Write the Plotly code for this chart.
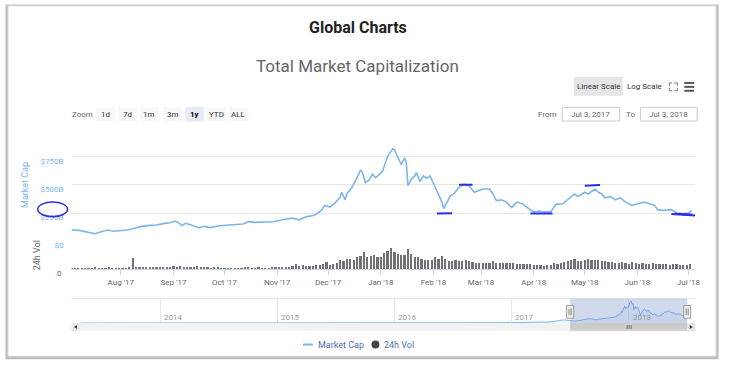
import plotly.graph_objects as go
import pandas as pd

W, H = 730, 375
def px(x): return x / W
def py(y): return 1 - y / H

FONT = "Liberation Sans Narrow, Arial Narrow, Roboto, sans-serif"

# ---------------- data ----------------
mc_dates = ["2017-07-03","2017-07-06","2017-07-11","2017-07-14","2017-07-17","2017-07-20","2017-07-24","2017-07-28",
            "2017-08-01","2017-08-05","2017-08-09","2017-08-13","2017-08-18","2017-08-22","2017-08-26","2017-08-30",
            "2017-09-02","2017-09-04","2017-09-06","2017-09-08","2017-09-12","2017-09-16","2017-09-19","2017-09-23","2017-09-28",
            "2017-10-04","2017-10-06","2017-10-12","2017-10-15","2017-10-19","2017-10-25","2017-10-30",
            "2017-11-04","2017-11-10","2017-11-14","2017-11-18","2017-11-23","2017-11-27","2017-11-29",
            "2017-12-02","2017-12-05","2017-12-08","2017-12-09","2017-12-11","2017-12-12","2017-12-15","2017-12-18","2017-12-20",
            "2017-12-21","2017-12-23","2017-12-25","2017-12-27","2017-12-29","2017-12-31",
            "2018-01-02","2018-01-05","2018-01-08","2018-01-09","2018-01-11","2018-01-13","2018-01-15","2018-01-16","2018-01-17",
            "2018-01-19","2018-01-21","2018-01-22","2018-01-24","2018-01-26","2018-01-28","2018-01-30",
            "2018-02-01","2018-02-03","2018-02-05","2018-02-06","2018-02-07","2018-02-09","2018-02-11","2018-02-13","2018-02-16",
            "2018-02-19","2018-02-22","2018-02-25","2018-02-28",
            "2018-03-02","2018-03-06","2018-03-08","2018-03-10","2018-03-13","2018-03-16","2018-03-19","2018-03-22","2018-03-26","2018-03-29",
            "2018-04-01","2018-04-04","2018-04-07","2018-04-11","2018-04-14","2018-04-18","2018-04-22","2018-04-25","2018-04-27",
            "2018-05-01","2018-05-03","2018-05-07","2018-05-09","2018-05-11","2018-05-13","2018-05-16","2018-05-19","2018-05-22","2018-05-25","2018-05-29",
            "2018-06-01","2018-06-05","2018-06-08","2018-06-11","2018-06-13","2018-06-16","2018-06-21","2018-06-24","2018-06-28",
            "2018-07-01","2018-07-03"]
mc_values = [101,100,86,80,68,82,100,90,
             93,101,116,133,142,145,157,165,
             180,165,140,160,142,119,133,122,139,
             146,148,154,175,168,171,174,
             191,206,191,217,232,275,319,
             304,339,391,435,368,420,478,565,629,
             618,522,542,594,565,594,
             620,754,820,812,739,681,739,696,493,
             551,580,609,531,580,560,580,
             513,450,391,348,290,348,406,420,478,
             507,493,435,450,
             464,464,420,362,368,348,299,348,328,290,
             261,268,261,261,328,333,386,420,397,
             435,420,464,435,420,386,397,368,386,348,319,
             333,348,333,319,281,275,281,252,246,
             252,275]
assert len(mc_dates) == len(mc_values)

# 24h volume (billions USD), one bar every second day from Jul 3, 2017
vol_start = "2017-07-03"
vol_values = [3,4,3,3,4,3,4,5,4,3,4,5,4,3,4,            # Jul
              4,4,5,32,6,6,7,6,7,6,7,6,7,6,7,           # Aug
              9,7,8,6,6,5,7,9,5,6,5,4,5,5,4,            # Sep
              3,3,3,3,4,4,6,5,4,4,5,4,4,4,5,5,          # Oct
              6,6,6,7,10,14,9,11,9,10,10,11,12,14,20,   # Nov
              13,14,18,26,22,28,30,27,36,38,50,34,38,40,34,  # Dec
              36,46,52,62,50,44,42,40,58,44,34,34,30,26,27,26,  # Jan
              34,28,38,30,24,22,25,23,24,25,24,20,18,19,         # Feb
              18,17,19,22,19,18,17,18,17,19,16,14,14,15,14,      # Mar
              12,12,11,10,11,12,18,16,18,20,22,25,30,24,23,      # Apr
              26,28,25,27,26,24,22,21,20,18,19,21,18,16,20,17,   # May
              16,17,16,15,18,16,15,14,15,13,14,15,12,13,12,      # Jun
              14]                                                 # Jul
vol_dates = pd.date_range(vol_start, periods=len(vol_values), freq="2D")

# older history shown only in the navigator
nav_hist_dates = ["2013-04-28","2013-06-01","2013-08-01","2013-10-01","2013-11-15","2013-12-01","2013-12-20",
                  "2014-01-15","2014-03-01","2014-05-01","2014-07-01","2014-09-01","2014-11-01",
                  "2015-01-15","2015-03-01","2015-05-01","2015-07-01","2015-09-01","2015-11-05",
                  "2016-01-01","2016-03-01","2016-05-01","2016-06-18","2016-09-01","2016-11-01",
                  "2017-01-01","2017-02-01","2017-03-01","2017-04-01","2017-05-01","2017-05-25","2017-06-12","2017-06-27"]
nav_hist_values = [1.5,1.2,1.3,2.0,5,14,8,
                   10,8,6,8,6,5.5,
                   3.5,4,3.8,4.5,3.8,6,
                   7,8,9,12,12,12,
                   17.7,18,22,26,40,85,115,100]

month_ticks = ["2017-08-01","2017-09-01","2017-10-01","2017-11-01","2017-12-01","2018-01-01",
               "2018-02-01","2018-03-01","2018-04-01","2018-05-01","2018-06-01","2018-07-01"]
month_labels = ["Aug '17","Sep '17","Oct '17","Nov '17","Dec '17","Jan '18",
                "Feb '18","Mar '18","Apr '18","May '18","Jun '18","Jul '18"]
cap_ticks = [0, 250, 500, 750, 1000]
cap_labels = ["$0", "$250B", "$500B", "$750B", ""]
year_ticks = ["2014-01-01","2015-01-01","2016-01-01","2017-01-01","2018-01-01"]
year_labels = ["2014","2015","2016","2017","2018"]
range_start, range_end = "2017-07-03", "2018-07-03"

# ---------------- figure ----------------
fig = go.Figure()
fig.add_trace(go.Scatter(x=mc_dates, y=mc_values, mode="lines", name="Market Cap",
                         line=dict(color="#7cb5ec", width=1.6), xaxis="x", yaxis="y",
                         hoverinfo="skip", showlegend=False))
fig.add_trace(go.Bar(x=vol_dates, y=vol_values, name="24h Vol", marker=dict(color="#707075", line=dict(width=0)),
                     width=1.3 * 86400000, xaxis="x", yaxis="y2", hoverinfo="skip", showlegend=False))
fig.add_trace(go.Scatter(x=nav_hist_dates + mc_dates, y=nav_hist_values + mc_values, mode="lines",
                         line=dict(color="#7cb5ec", width=1), fill="tozeroy",
                         fillcolor="rgba(124,181,236,0.12)", xaxis="x2", yaxis="y3",
                         hoverinfo="skip", showlegend=False))

fig.update_layout(
    width=W, height=H, autosize=False,
    margin=dict(l=0, r=0, t=0, b=0),
    paper_bgcolor="white", plot_bgcolor="rgba(0,0,0,0)",
    font=dict(family=FONT, size=8, color="#666666"),
    bargap=0, hovermode=False,
    xaxis=dict(domain=[px(72), px(700)], range=["2017-07-03", "2018-07-05"], anchor="y2",
               tickvals=month_ticks, ticktext=month_labels, showgrid=False, zeroline=False,
               showline=True, linecolor="#ccd6eb", ticks="outside", ticklen=5, tickcolor="#ccd6eb",
               tickfont=dict(size=8, color="#666666")),
    yaxis=dict(domain=[py(247.3), py(131.7)], range=[0, 1000], anchor="x",
               tickvals=cap_ticks, ticktext=cap_labels, showgrid=True, gridcolor="#e6e6e6",
               zeroline=False, ticks="", tickfont=dict(size=8, color="#7cb5ec"),
               ticklabelshift=4, ticklabelstandoff=7,
               title=dict(text="Market Cap", font=dict(size=9, color="#7cb5ec"), standoff=10)),
    yaxis2=dict(domain=[py(275.7), py(247.3)], range=[0, 80], anchor="x",
                tickvals=[0], ticktext=["0"], showgrid=False, zeroline=False, ticks="",
                tickfont=dict(size=8, color="#666666"), ticklabelshift=4, ticklabelstandoff=9,
                title=dict(text="24h Vol", font=dict(size=9, color="#666666"), standoff=14)),
    xaxis2=dict(domain=[px(72), px(700)], range=["2013-03-31", "2018-07-28"], anchor="y3",
                tickvals=year_ticks, showticklabels=False, showgrid=True, gridcolor="#e6e6e6",
                zeroline=False, showline=False, ticks=""),
    yaxis3=dict(domain=[py(331), py(306)], range=[0, 900], anchor="x2", visible=False),
)

shapes = []
# card with shadow
shapes.append(dict(type="rect", xref="paper", yref="paper", x0=px(5.5), x1=px(723.5), y0=py(368), y1=py(4.5),
                   fillcolor="#bdbdbd", line=dict(width=0), layer="below"))
shapes.append(dict(type="rect", xref="paper", yref="paper", x0=px(8), x1=px(721), y0=py(365), y1=py(6),
                   fillcolor="white", line=dict(color="#d6d6d6", width=1), layer="below"))
# Linear scale button
shapes.append(dict(type="rect", xref="paper", yref="paper", x0=px(578), x1=px(627), y0=py(98), y1=py(79),
                   fillcolor="#e6e6e6", line=dict(width=0), layer="below"))
# zoom buttons
zoom_btns = [("1d", 106), ("7d", 128.5), ("1m", 150.5), ("3m", 174), ("1y", 196), ("YTD", 218), ("ALL", 240.5)]
for lbl, cx in zoom_btns:
    shapes.append(dict(type="rect", xref="paper", yref="paper", x0=px(cx - 9.5), x1=px(cx + 9.5),
                       y0=py(124.5), y1=py(109.5),
                       fillcolor="#e6ebf5" if lbl == "1y" else "#f7f7f7", line=dict(width=0), layer="below"))
# date input boxes
for x0, x1 in [(566, 624), (645, 702)]:
    shapes.append(dict(type="rect", xref="paper", yref="paper", x0=px(x0), x1=px(x1), y0=py(124), y1=py(110),
                       fillcolor="white", line=dict(color="#cccccc", width=1), layer="below"))
# fullscreen icon
for (ax, ay, dx, dy) in [(674, 85, 1, 1), (682, 85, -1, 1), (674, 93, 1, -1), (682, 93, -1, -1)]:
    shapes.append(dict(type="path", xref="paper", yref="paper",
                       path=f"M {px(ax + 3*dx)} {py(ay)} L {px(ax)} {py(ay)} L {px(ax)} {py(ay + 3*dy)}",
                       line=dict(color="#777777", width=1)))
# hamburger icon
for yy in (85, 89, 93):
    shapes.append(dict(type="line", xref="paper", yref="paper", x0=px(689), x1=px(699), y0=py(yy), y1=py(yy),
                       line=dict(color="#555555", width=2)))
# navigator outline, mask, handles
shapes.append(dict(type="line", xref="paper", yref="paper", x0=px(72), x1=px(700), y0=py(306), y1=py(306),
                   line=dict(color="#e0e0e0", width=1)))
shapes.append(dict(type="rect", xref="x2", yref="paper", x0=range_start, x1=range_end, y0=py(331), y1=py(306),
                   fillcolor="rgba(102,133,194,0.3)", line=dict(width=0)))
for d in (range_start, range_end):
    shapes.append(dict(type="rect", xref="x2", yref="paper", xsizemode="pixel", xanchor=d, x0=-3.5, x1=3.5,
                       y0=py(326), y1=py(313), fillcolor="#f2f2f2", line=dict(color="#999999", width=1)))
    for off in (-1, 1):
        shapes.append(dict(type="line", xref="x2", yref="paper", xsizemode="pixel", xanchor=d, x0=off, x1=off,
                           y0=py(323), y1=py(316), line=dict(color="#333333", width=0.6)))
# scrollbar
shapes.append(dict(type="rect", xref="paper", yref="paper", x0=px(72), x1=px(700), y0=py(339), y1=py(331),
                   fillcolor="#f2f2f2", line=dict(width=0)))
shapes.append(dict(type="rect", xref="x2", yref="paper", x0=range_start, x1=range_end, y0=py(339), y1=py(331),
                   fillcolor="#cccccc", line=dict(width=0)))
for x0, x1 in [(72, 80), (692, 700)]:
    shapes.append(dict(type="rect", xref="paper", yref="paper", x0=px(x0), x1=px(x1), y0=py(339), y1=py(331),
                       fillcolor="#e6e6e6", line=dict(width=0)))
shapes.append(dict(type="path", xref="paper", yref="paper",
                   path=f"M {px(77.5)} {py(333)} L {px(74.5)} {py(335)} L {px(77.5)} {py(337)} Z",
                   fillcolor="#333333", line=dict(width=0)))
shapes.append(dict(type="path", xref="paper", yref="paper",
                   path=f"M {px(694.5)} {py(333)} L {px(697.5)} {py(335)} L {px(694.5)} {py(337)} Z",
                   fillcolor="#333333", line=dict(width=0)))
for off in (-2, 0, 2):
    shapes.append(dict(type="line", xref="paper", yref="paper", x0=px(633.5 + off), x1=px(633.5 + off),
                       y0=py(333), y1=py(337), line=dict(color="#333333", width=0.6)))
# legend symbols
shapes.append(dict(type="line", xref="paper", yref="paper", x0=px(305), x1=px(315), y0=py(353), y1=py(353),
                   line=dict(color="#7cb5ec", width=2)))
shapes.append(dict(type="circle", xref="paper", yref="paper", x0=px(374), x1=px(382), y0=py(357), y1=py(349),
                   fillcolor="#434348", line=dict(width=0)))
# hand-drawn blue marks
BLUE = "#2e2ee0"
shapes.append(dict(type="circle", xref="paper", yref="paper", x0=px(38), x1=px(68), y0=py(222), y1=py(207),
                   line=dict(color=BLUE, width=1.5)))
marks = [("2018-02-03", 248, "2018-02-12", 249), ("2018-02-16", 501, "2018-02-24", 501),
         ("2018-03-30", 248, "2018-04-12", 248), ("2018-05-01", 492, "2018-05-10", 500),
         ("2018-06-21", 242, "2018-07-05", 230), ("2018-06-23", 244, "2018-07-03", 238)]
for x0, y0, x1, y1 in marks:
    shapes.append(dict(type="line", xref="x", yref="y", x0=x0, x1=x1, y0=y0, y1=y1,
                       line=dict(color=BLUE, width=2)))
fig.update_layout(shapes=shapes)

ann = []
def txt(s, x, y, size=8, color="#333333", xanchor="center", bold=False):
    ann.append(dict(text=f"<b>{s}</b>" if bold else s, x=px(x), y=py(y), xref="paper", yref="paper",
                    xanchor=xanchor, yanchor="middle", showarrow=False,
                    font=dict(family=FONT, size=size, color=color)))
txt("Global Charts", 360, 28, size=16, color="#222222", bold=True)
txt("Total Market Capitalization", 360, 68, size=17, color="#666666")
txt("Linear Scale", 602.5, 89, size=8, color="#333333")
txt("Log Scale", 649, 89, size=8, color="#333333")
txt("Zoom", 83, 117, size=8, color="#666666")
for lbl, cx in zoom_btns:
    txt(lbl, cx, 117, size=8, color="#000000" if lbl == "1y" else "#333333", bold=(lbl == "1y"))
txt("From", 551, 117, size=8, color="#666666")
txt("To", 635, 117, size=8, color="#666666")
txt("Jul 3, 2017", 595, 117, size=8, color="#666666")
txt("Jul 3, 2018", 673.5, 117, size=8, color="#666666")
txt("Market Cap", 318, 353, size=9, color="#4f6fae", xanchor="left")
txt("24h Vol", 385, 353, size=9, color="#4f6fae", xanchor="left")
# navigator year labels, placed on the navigator's date axis
for tv, tl in zip(year_ticks, year_labels):
    ann.append(dict(text=tl, x=tv, y=py(325), xref="x2", yref="paper", xanchor="left", yanchor="middle",
                    xshift=2, showarrow=False, font=dict(family=FONT, size=8, color="#999999")))
fig.update_layout(annotations=ann)

fig.write_html("out.html", config={"displayModeBar": False, "staticPlot": True},
               post_script="document.body.style.margin='0';document.body.style.overflow='hidden';")
